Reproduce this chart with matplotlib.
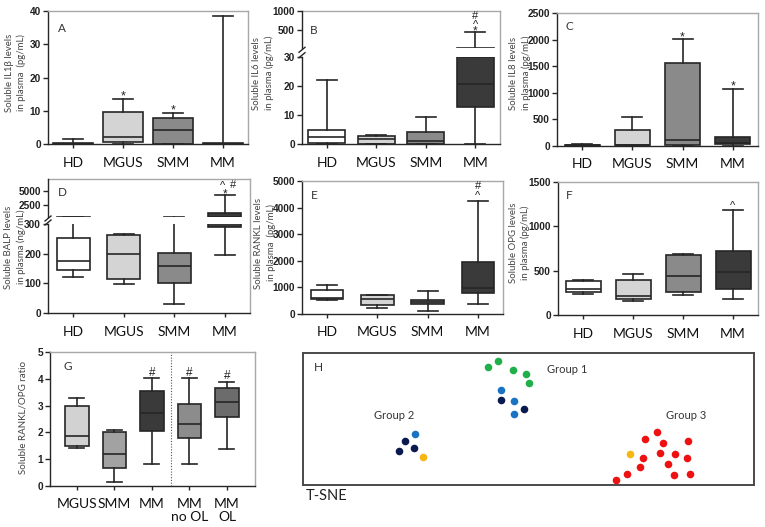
import matplotlib
matplotlib.use("Agg")
import matplotlib.pyplot as plt
from matplotlib.lines import Line2D
from matplotlib.transforms import offset_copy

W, H = 765, 527

# ---------------- data ----------------
groups4 = ["HD", "MGUS", "SMM", "MM"]
groupsG = ["MGUS", "SMM", "MM", "MM\nno OL", "MM\nOL"]
colors4 = ["#ffffff", "#d4d4d4", "#8a8a8a", "#3a3a3a"]
colorsG = ["#d2d2d2", "#a2a2a2", "#3a3a3a", "#8c8c8c", "#6c6c6c"]

# A: IL1beta (pg/mL)
a_lo = [0.0, 0.0, 0.0, 0.0]
a_q1 = [0.0, 0.6, 0.1, 0.0]
a_med = [0.1, 2.3, 4.2, 0.2]
a_q3 = [0.3, 9.8, 8.0, 0.4]
a_hi = [1.5, 13.6, 9.3, 38.5]

# B: IL6 (pg/mL), broken axis
b_lo = [0.0, 0.0, 0.0, 0.0]
b_q1 = [0.5, 0.2, 0.2, 12.8]
b_med = [2.6, 1.8, 1.2, 20.5]
b_q3 = [5.0, 2.7, 4.2, 29.8]
b_hi = [22.0, 3.1, 9.2, 447.0]

# C: IL8 (pg/mL)
c_lo = [0.0, 0.0, 0.0, 0.0]
c_q1 = [2.0, 10.0, 20.0, 25.0]
c_med = [10.0, 20.0, 107.0, 50.0]
c_q3 = [20.0, 295.0, 1560.0, 170.0]
c_hi = [30.0, 548.0, 2015.0, 1075.0]

# D: BALP (ng/mL), broken axis
d_lo = [120.0, 97.0, 30.0, 195.0]
d_q1 = [145.0, 115.0, 102.0, 290.0]
d_med = [174.0, 200.0, 157.0, 305.0]
d_q3 = [252.0, 262.0, 201.0, 1000.0]
d_hi = [360.0, 265.0, 360.0, 4200.0]

# E: RANKL (pg/mL)
e_lo = [530.0, 230.0, 110.0, 370.0]
e_q1 = [560.0, 320.0, 390.0, 780.0]
e_med = [590.0, 560.0, 440.0, 980.0]
e_q3 = [920.0, 700.0, 520.0, 1950.0]
e_hi = [1080.0, 730.0, 860.0, 4250.0]

# F: OPG (pg/mL)
f_lo = [240.0, 160.0, 220.0, 180.0]
f_q1 = [255.0, 175.0, 260.0, 290.0]
f_med = [295.0, 210.0, 440.0, 485.0]
f_q3 = [380.0, 395.0, 670.0, 720.0]
f_hi = [390.0, 460.0, 690.0, 1180.0]

# G: RANKL/OPG ratio
g_lo = [1.42, 0.15, 0.82, 0.80, 1.38]
g_q1 = [1.48, 0.68, 2.05, 1.80, 2.58]
g_med = [1.85, 1.18, 2.72, 2.33, 3.15]
g_q3 = [2.98, 2.03, 3.55, 3.05, 3.65]
g_hi = [3.30, 2.07, 4.02, 4.02, 3.90]

# H: t-SNE coordinates
h_green_x = [41.0, 43.3, 46.6, 49.4, 50.0]
h_green_y = [89.4, 93.7, 87.2, 84.1, 77.6]
h_blue_x = [44.0, 46.8, 46.8, 24.8]
h_blue_y = [72.0, 63.5, 53.7, 39.0]
h_navy_x = [44.0, 48.9, 22.6, 21.3, 24.6]
h_navy_y = [64.7, 57.7, 33.5, 25.9, 27.7]
h_yellow_x = [26.6, 72.4]
h_yellow_y = [21.4, 23.2]
h_red_x = [78.5, 75.9, 79.8, 85.4, 79.1, 82.4, 85.1, 75.4, 80.9, 74.8, 71.9, 82.3, 85.7, 69.3]
h_red_y = [40.3, 34.8, 32.0, 33.2, 24.2, 23.7, 20.7, 20.2, 16.1, 13.9, 8.6, 7.6, 8.3, 3.5]

# ---------------- helpers ----------------
fig = plt.figure(figsize=(W / 100, H / 100), dpi=100)

NUMFONT = "Liberation Sans"
TXTFONT = "Lato"
DARK = "#262626"
LIGHT = "#a8a8a8"


def add_ax(x0, y0, x1, y1, **kw):
    return fig.add_axes([x0 / W, 1 - y1 / H, (x1 - x0) / W, (y1 - y0) / H], **kw)


def draw_boxes(ax, lo, q1, med, q3, hi, colors, width=0.7, capw=0.4, lw=1.2, keep=None):
    idx = [i for i in range(len(lo)) if keep is None or keep[i]]
    stats = [dict(whislo=lo[i], q1=q1[i], med=med[i], q3=q3[i], whishi=hi[i], fliers=[])
             for i in idx]
    pos = [i + 1 for i in idx]
    art = ax.bxp(stats, positions=pos, widths=width, capwidths=capw,
                 patch_artist=True, showfliers=False, manage_ticks=False,
                 boxprops=dict(edgecolor=DARK, linewidth=lw),
                 medianprops=dict(color=DARK, linewidth=lw),
                 whiskerprops=dict(color=DARK, linewidth=lw),
                 capprops=dict(color=DARK, linewidth=lw))
    for p, i in zip(art["boxes"], idx):
        p.set_facecolor(colors[i])
    return art


def style_y(ax, ticks):
    ax.set_yticks(ticks)
    ax.tick_params(axis="y", length=3.5, width=1, color=DARK, pad=1.5)
    for t in ax.get_yticklabels():
        t.set_fontfamily(NUMFONT)
        t.set_fontweight("bold")
        t.set_fontsize(7.3)
        t.set_color("#222222")


def style_x(ax, labels, n):
    ax.set_xticks(range(1, n + 1))
    ax.set_xticklabels(labels, fontfamily=TXTFONT, fontsize=10, color="#111111",
                       linespacing=1.05)
    ax.tick_params(axis="x", length=3, width=1, color=DARK, pad=6)


def frame(ax, left=True, bottom=True, top=True, right=True):
    ax.spines["left"].set_visible(left)
    ax.spines["bottom"].set_visible(bottom)
    ax.spines["top"].set_visible(top)
    ax.spines["right"].set_visible(right)
    ax.spines["left"].set_color(DARK)
    ax.spines["bottom"].set_color(DARK)
    ax.spines["top"].set_color(LIGHT)
    ax.spines["right"].set_color(LIGHT)
    for s in ax.spines.values():
        s.set_linewidth(1.0)


def ylab(x, y, text, size=6.9):
    fig.text(x / W, 1 - y / H, text, rotation=90, ha="center", va="center",
             fontfamily=TXTFONT, fontsize=size, color="#444444", linespacing=1.45,
             multialignment="center")


def letter(x, y, s):
    fig.text(x / W, 1 - y / H, s, ha="left", va="center", fontfamily=TXTFONT,
             fontsize=8.5, color="#333333")


# visual centre of each glyph above the baseline, in em
GLYPH_MID = {"*": 0.60, "^": 0.52, "#": 0.36}


def mark(ax, x, y, s, size=9):
    tr = offset_copy(ax.transData, fig=fig, x=0, y=-GLYPH_MID[s] * size, units="points")
    ax.text(x, y, s, ha="center", va="baseline", fontfamily=NUMFONT, fontsize=size,
            color="#222222", clip_on=False, zorder=5, transform=tr)


def simple_panel(x0, y0, x1, y1, lo, q1, med, q3, hi, ylim, ticks, width=0.7):
    ax = add_ax(x0, y0, x1, y1)
    draw_boxes(ax, lo, q1, med, q3, hi, colors4, width=width)
    ax.set_xlim(0.5, 4.5)
    ax.set_ylim(*ylim)
    frame(ax)
    style_y(ax, ticks)
    style_x(ax, groups4, 4)
    return ax


def broken_panel(x0, top, up_bot, lo_top, bot, lims_up, lims_lo, ticks_up, ticks_lo,
                 lo, q1, med, q3, hi, width=0.7):
    fr = add_ax(x0[0], top, x0[1], bot)
    fr.set_xticks([]); fr.set_yticks([])
    frame(fr, left=False, bottom=False)
    fr.patch.set_alpha(0)
    axu = add_ax(x0[0], top, x0[1], up_bot)
    axl = add_ax(x0[0], lo_top, x0[1], bot)
    keep_up = [h > lims_up[0] for h in hi]
    for ax, lims, tk, keep in ((axu, lims_up, ticks_up, keep_up), (axl, lims_lo, ticks_lo, None)):
        draw_boxes(ax, lo, q1, med, q3, hi, colors4, width=width, keep=keep)
        ax.set_xlim(0.5, 4.5)
        ax.set_ylim(*lims)
        ax.patch.set_alpha(0)
        style_y(ax, tk)
    frame(axu, bottom=False, top=False, right=False)
    axu.set_xticks([])
    frame(axl, top=False, right=False)
    style_x(axl, groups4, 4)
    # break marks on the left spine
    for yy in (up_bot + 1.5, lo_top - 1.5):
        fig.add_artist(Line2D([(x0[0] - 3) / W, (x0[0] + 3) / W],
                              [1 - (yy + 2.5) / H, 1 - (yy - 2.5) / H],
                              color=DARK, lw=1.0))
    return axu, axl


# ---------------- panel A ----------------
axA = simple_panel(48, 11, 248, 144.3, a_lo, a_q1, a_med, a_q3, a_hi, (0, 40),
                   [0, 10, 20, 30, 40], width=0.8)
mark(axA, 2, 15.8, "*")
mark(axA, 3, 11.4, "*")
letter(58, 28, "A")
ylab(15.5, 73, "Soluble IL1β levels\nin plasma  (pg/mL)")

# ---------------- panel B ----------------
axBu, axBl = broken_panel((302, 500), 11.3, 48.3, 56.7, 144.3, (27, 1000), (0, 30),
                          [500, 1000], [0, 10, 20, 30],
                          b_lo, b_q1, b_med, b_q3, b_hi, width=0.75)
mark(axBu, 4, 570, "*", 8.5)
mark(axBu, 4, 720, "^", 8)
mark(axBu, 4, 905, "#", 8)
letter(310, 30, "B")
ylab(263, 73, "Soluble IL6 levels\nin plasma (pg/mL)")

# ---------------- panel C ----------------
axC = simple_panel(557, 13.3, 758, 145.7, c_lo, c_q1, c_med, c_q3, c_hi, (0, 2500),
                   [0, 500, 1000, 1500, 2000, 2500])
mark(axC, 3, 2120, "*")
mark(axC, 4, 1210, "*")
letter(566, 27, "C")
ylab(520, 73, "Soluble IL8 levels\nin plasma (pg/mL)")

# ---------------- panel D ----------------
axDu, axDl = broken_panel((48, 250), 179, 217, 224, 313, (300, 7150), (0, 300),
                          [2500, 5000], [0, 100, 200, 300],
                          d_lo, d_q1, d_med, d_q3, d_hi, width=0.65)
mark(axDu, 4, 5040, "*", 8.5)
mark(axDu, 3.96, 6300, "^", 8)
mark(axDu, 4.16, 6300, "#", 8)
letter(58, 193, "D")
ylab(15, 247, "Soluble BALP levels\nin plasma (ng/mL)")

# ---------------- panel E ----------------
axE = simple_panel(302, 181, 503, 314, e_lo, e_q1, e_med, e_q3, e_hi, (0, 5000),
                   [0, 1000, 2000, 3000, 4000, 5000], width=0.65)
mark(axE, 4, 4540, "^", 8)
mark(axE, 4, 4860, "#", 8)
letter(311, 196, "E")
ylab(265, 243, "Soluble RANKL levels\nin plasma  (pg/mL)")

# ---------------- panel F ----------------
axF = simple_panel(558, 181.7, 758, 315, f_lo, f_q1, f_med, f_q3, f_hi, (0, 1500),
                   [0, 500, 1000, 1500])
mark(axF, 4, 1256, "^", 8)
letter(566, 196, "F")
ylab(519.5, 243, "Soluble OPG levels\nin plasma (pg/mL)")

# ---------------- panel G ----------------
axG = add_ax(50, 352.3, 255, 485.7)
draw_boxes(axG, g_lo, g_q1, g_med, g_q3, g_hi, colorsG, width=0.62, capw=0.4)
axG.set_xlim(0.28, 5.75)
axG.set_ylim(0, 5)
axG.axvline(3.5, color="#555555", lw=0.8, ls=(0, (1, 1.5)))
frame(axG)
style_y(axG, [0, 1, 2, 3, 4, 5])
style_x(axG, groupsG, 5)
for xi, yi in ((3, 4.27), (4, 4.27), (5, 4.17)):
    mark(axG, xi, yi, "#", 8.5)
letter(63, 366, "G")
fig.text(23.3 / W, 1 - 418 / H, "Soluble RANKL/OPG ratio", rotation=90, ha="center",
         va="center", fontfamily=TXTFONT, fontsize=7.0, color="#444444")

# ---------------- panel H ----------------
axH = add_ax(303, 353, 754, 485)
axH.set_xlim(0, 100)
axH.set_ylim(0, 100)
axH.set_xticks([]); axH.set_yticks([])
for s in axH.spines.values():
    s.set_color("#4a4a4a"); s.set_linewidth(1.4)
ms = 30
axH.scatter(h_green_x, h_green_y, s=ms, color="#1fb04a", lw=0, zorder=3)
axH.scatter(h_blue_x, h_blue_y, s=ms, color="#1a72c2", lw=0, zorder=3)
axH.scatter(h_navy_x, h_navy_y, s=ms, color="#0b1a4e", lw=0, zorder=3)
axH.scatter(h_yellow_x, h_yellow_y, s=ms, color="#f7b512", lw=0, zorder=3)
axH.scatter(h_red_x, h_red_y, s=ms, color="#ee1111", lw=0, zorder=3)
for gx, gy, gt in ((58.5, 87.2, "Group 1"), (20.2, 52.9, "Group 2"), (85.0, 52.9, "Group 3")):
    axH.text(gx, gy, gt, ha="center", va="center", fontfamily=TXTFONT, fontsize=8,
             color="#333333")
axH.text(3.5, 88.9, "H", ha="center", va="center", fontfamily=TXTFONT, fontsize=8.5,
         color="#333333")
fig.text(306 / W, 1 - 496 / H, "T-SNE", ha="left", va="center", fontfamily=TXTFONT,
         fontsize=10.5, color="#222222")

fig.savefig("out.png", dpi=100)
